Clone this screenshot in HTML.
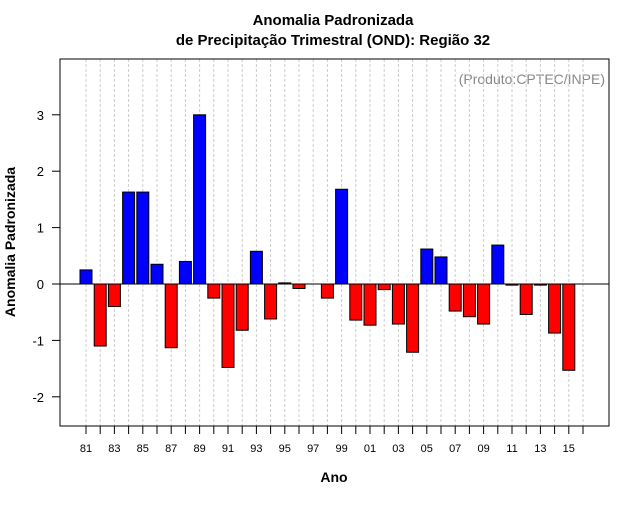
<!DOCTYPE html>
<html><head><meta charset="utf-8"><style>body{margin:0;background:#fff}svg text{font-family:"Liberation Sans",sans-serif}</style></head>
<body>
<svg id="c" width="640" height="500" xmlns="http://www.w3.org/2000/svg">
<text x="333" y="25" text-anchor="middle" font-size="15" font-weight="bold">Anomalia Padronizada</text>
<text x="333" y="45" text-anchor="middle" font-size="15" font-weight="bold">de Precipitação Trimestral (OND): Região 32</text>
<text x="334" y="482" text-anchor="middle" font-size="14" font-weight="bold">Ano</text>
<text transform="translate(15,242) rotate(-90)" text-anchor="middle" font-size="14" font-weight="bold">Anomalia Padronizada</text>
<text x="605" y="84" text-anchor="end" font-size="14" fill="#888">(Produto:CPTEC/INPE)</text>
<g id="g"></g>
<rect x="60" y="59" width="549" height="367" fill="none" stroke="#000"/>
</svg>
<script>
const years=[];for(let y=1981;y<=2016;y++)years.push(y);
const values=[0.25,-1.1,-0.4,1.63,1.63,0.35,-1.13,0.4,3.0,-0.25,-1.48,-0.82,0.58,-0.62,0.02,-0.08,0,-0.25,1.68,-0.64,-0.73,-0.1,-0.71,-1.21,0.62,0.48,-0.48,-0.58,-0.71,0.69,-0.02,-0.54,-0.02,-0.87,-1.53,0];
const yTicks=[-2,-1,0,1,2,3];
const xLabelYears=[1981,1983,1985,1987,1989,1991,1993,1995,1997,1999,2001,2003,2005,2007,2009,2011,2013,2015];
const NS="http://www.w3.org/2000/svg",g=document.getElementById('g');
const X=y=>86+(y-1981)*14.2, Y=v=>284-v*56.4;
function mk(t,a){const e=document.createElementNS(NS,t);for(const k in a)e.setAttribute(k,a[k]);g.appendChild(e);return e;}
years.forEach(y=>{
 const l=mk('line',{x1:X(y),x2:X(y),y1:59,y2:426,stroke:'#ccc','stroke-dasharray':'3,2'});
 
 
 const t=mk('line',{x1:X(y),x2:X(y),y1:426,y2:434,stroke:'#000'});
 
 
});
xLabelYears.forEach(y=>{
 const t=mk('text',{x:X(y),y:452,'text-anchor':'middle','font-size':'11'});t.textContent=String(y%100).padStart(2,'0');
 
 
});
yTicks.forEach(v=>{
 const l=mk('line',{x1:52,x2:60,y1:Y(v),y2:Y(v),stroke:'#000'});
 
 
 const t=mk('text',{x:44,y:Y(v)+5,'text-anchor':'end','font-size':'13'});t.textContent=v;
 
 
});
values.forEach((v,i)=>{
 if(v===0)return;
 const y0=Y(Math.max(v,0)),h=Math.abs(Y(v)-Y(0));
 const r=mk('rect',{x:X(years[i])-6,y:y0,width:12,height:Math.max(h,0.5),fill:v>0?'#0000ff':'#ff0000',stroke:'#000','stroke-width':1});
 
 
});
const z=mk('line',{x1:60,x2:609,y1:284,y2:284,stroke:'#000'});


</script>
</body></html>
